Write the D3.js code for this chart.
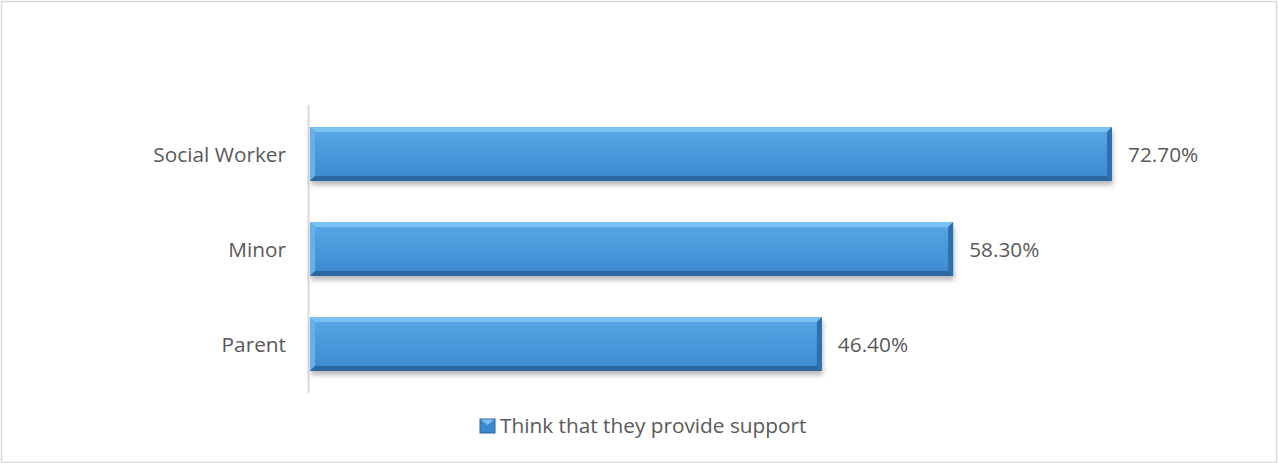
<!DOCTYPE html>
<html>
<head>
<meta charset="utf-8">
<script src="https://cdn.jsdelivr.net/npm/d3@7"></script>
<style>
  html, body { margin: 0; padding: 0; background: #fff; }
  svg { display: block; font-family: "Open Sans", sans-serif; }
</style>
</head>
<body>
<div id="chart"></div>
<script>
const categories = ['Social Worker', 'Minor', 'Parent'];
const values = [0.727, 0.583, 0.464];
const seriesName = 'Think that they provide support';

const width = 1278, height = 463;
const margin = { left: 310, top: 106.5, bottom: 71.5 };
const fontSize = '20.8px';
const textColor = '#595959';

const svg = d3.select('#chart').append('svg')
    .attr('width', width)
    .attr('height', height);

const defs = svg.append('defs');

const grad = defs.append('linearGradient')
    .attr('id', 'barFill').attr('x1', 0).attr('y1', 0).attr('x2', 0).attr('y2', 1);
grad.append('stop').attr('offset', '0%').attr('stop-color', '#58a8e6');
grad.append('stop').attr('offset', '100%').attr('stop-color', '#3c88cf');

const shadow = defs.append('filter').attr('id', 'shadow')
    .attr('x', '-5%').attr('y', '-20%').attr('width', '110%').attr('height', '150%');
shadow.append('feDropShadow')
    .attr('dx', 1).attr('dy', 4).attr('stdDeviation', 2.5)
    .attr('flood-color', '#000').attr('flood-opacity', 0.28);

// chart border
svg.append('rect')
    .attr('x', 1.5).attr('y', 1.5)
    .attr('width', width - 3).attr('height', height - 2)
    .attr('fill', 'none').attr('stroke', '#d9d9d9').attr('stroke-width', 1.5);

const x = d3.scaleLinear().domain([0, 0.727]).range([margin.left, 1112]);
const y = d3.scaleBand().domain(categories)
    .range([margin.top, height - margin.bottom])
    .paddingInner(0.432).paddingOuter(0.216);

// axis line
svg.append('line')
    .attr('x1', margin.left - 1.5).attr('x2', margin.left - 1.5)
    .attr('y1', 105).attr('y2', 393)
    .attr('stroke', '#d9d9d9').attr('stroke-width', 2);

const bev = 5;
const h = y.bandwidth();
const bars = svg.selectAll('.bar')
    .data(values)
  .enter().append('g')
    .attr('class', 'bar')
    .attr('transform', (d, i) => `translate(${x(0)},${y(categories[i])})`);

bars.append('rect')
    .attr('width', d => x(d) - x(0))
    .attr('height', h)
    .attr('fill', 'url(#barFill)')
    .attr('filter', 'url(#shadow)');

// bevel edges
bars.append('polygon') // top
    .attr('points', d => { const w = x(d) - x(0); return `0,0 ${w},0 ${w - bev},${bev} ${bev},${bev}`; })
    .attr('fill', '#7cc1f2');
bars.append('polygon') // left
    .attr('points', `0,0 ${bev},${bev} ${bev},${h - bev} 0,${h}`)
    .attr('fill', '#64b0ea');
bars.append('polygon') // right
    .attr('points', d => { const w = x(d) - x(0); return `${w},0 ${w},${h} ${w - bev},${h - bev} ${w - bev},${bev}`; })
    .attr('fill', '#2e6fae');
bars.append('polygon') // bottom
    .attr('points', d => { const w = x(d) - x(0); return `0,${h} ${bev},${h - bev} ${w - bev},${h - bev} ${w},${h}`; })
    .attr('fill', '#2d679f');

// category labels
svg.selectAll('.cat')
    .data(categories)
  .enter().append('text')
    .attr('x', 286)
    .attr('y', d => y(d) + h / 2 + 1)
    .attr('dy', '0.35em')
    .attr('text-anchor', 'end')
    .attr('fill', textColor)
    .style('font-size', fontSize)
    .text(d => d);

// value labels
svg.selectAll('.val')
    .data(values)
  .enter().append('text')
    .attr('x', d => x(d) + 16)
    .attr('y', (d, i) => y(categories[i]) + h / 2 + 1)
    .attr('dy', '0.35em')
    .attr('fill', textColor)
    .style('font-size', fontSize)
    .text(d => d3.format('.2%')(d));

// legend
const lg = svg.append('g').attr('transform', 'translate(480,419)');
lg.append('rect').attr('width', 15).attr('height', 14).attr('fill', '#3c88cf');
lg.append('polygon').attr('points', '0,0 15,0 7.5,6').attr('fill', '#7cc1f2');
lg.append('rect').attr('width', 15).attr('height', 14).attr('fill', 'none')
    .attr('stroke', '#2d679f').attr('stroke-width', 1);
lg.append('text')
    .attr('x', 20).attr('y', 7).attr('dy', '0.35em')
    .attr('fill', textColor)
    .style('font-size', fontSize)
    .text(seriesName);
</script>
</body>
</html>
